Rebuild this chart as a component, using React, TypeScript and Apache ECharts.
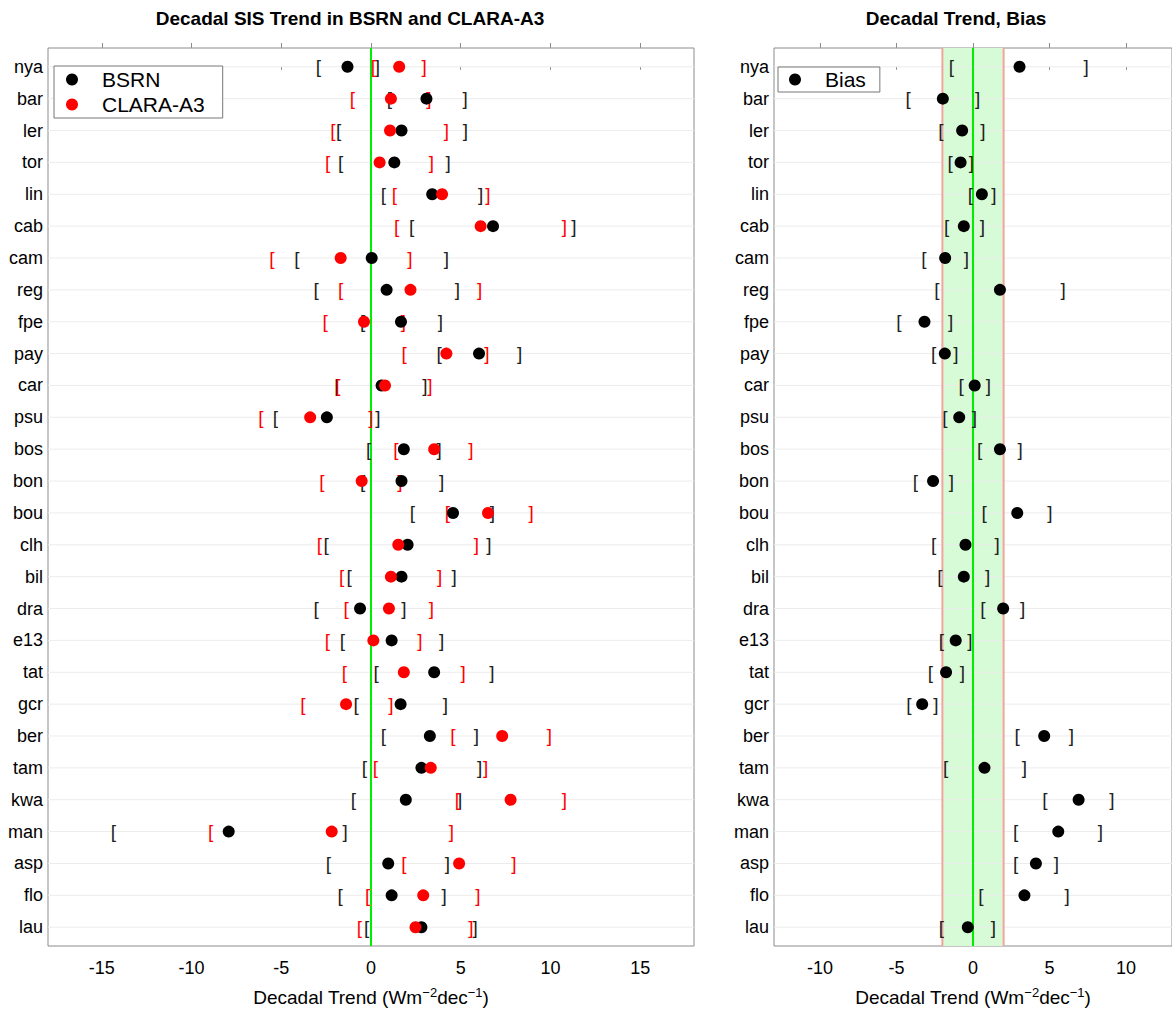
import React, { useEffect, useRef } from "react";
import * as echarts from "echarts";

const FONT = '"Liberation Sans", Arial, Helvetica, sans-serif';

// ---- data ----
const stations = ["nya", "bar", "ler", "tor", "lin", "cab", "cam", "reg", "fpe", "pay", "car", "psu", "bos", "bon", "bou", "clh", "bil", "dra", "e13", "tat", "gcr", "ber", "tam", "kwa", "man", "asp", "flo", "lau"];

const bsrnTrend = [-1.31, 3.09, 1.70, 1.30, 3.41, 6.80, 0.04, 0.87, 1.67, 6.02, 0.59, -2.46, 1.83, 1.70, 4.57, 2.04, 1.70, -0.61, 1.15, 3.52, 1.65, 3.28, 2.81, 1.94, -7.93, 0.96, 1.15, 2.81];
const bsrnLow = [-2.93, 1.02, -1.81, -1.69, 0.69, 2.26, -4.13, -3.06, -0.46, 3.80, -1.90, -5.33, -0.13, -0.46, 2.31, -2.50, -1.22, -3.06, -1.59, 0.28, -0.83, 0.69, -0.37, -0.98, -14.35, -2.37, -1.72, -0.24];
const bsrnHigh = [0.35, 5.24, 5.26, 4.30, 6.11, 11.30, 4.20, 4.81, 3.87, 8.28, 3.00, 0.39, 3.80, 3.94, 6.76, 6.57, 4.63, 1.83, 3.93, 6.74, 4.15, 5.87, 6.06, 4.94, -1.44, 4.26, 4.07, 5.81];

const claraTrend = [1.57, 1.11, 1.06, 0.48, 3.96, 6.11, -1.69, 2.20, -0.39, 4.20, 0.78, -3.39, 3.52, -0.52, 6.52, 1.52, 1.11, 1.00, 0.13, 1.83, -1.39, 7.31, 3.33, 7.78, -2.19, 4.91, 2.91, 2.48];
const claraLow = [0.13, -1.04, -2.13, -2.41, 1.30, 1.43, -5.52, -1.69, -2.56, 1.85, -1.85, -6.13, 1.39, -2.74, 4.26, -2.87, -1.63, -1.39, -2.43, -1.48, -3.80, 4.57, 0.24, 4.81, -8.94, 1.83, -0.19, -0.65];
const claraHigh = [2.96, 3.22, 4.20, 3.37, 6.52, 10.78, 2.17, 6.06, 1.80, 6.46, 3.28, 0.00, 5.56, 1.61, 8.93, 5.87, 3.83, 3.37, 2.72, 5.13, 1.11, 9.94, 6.39, 10.78, 4.48, 7.96, 5.96, 5.56];

const biasVal = [3.04, -1.97, -0.71, -0.81, 0.58, -0.60, -1.82, 1.76, -3.17, -1.84, 0.11, -0.90, 1.76, -2.61, 2.89, -0.49, -0.60, 1.97, -1.13, -1.76, -3.32, 4.65, 0.75, 6.90, 5.57, 4.11, 3.36, -0.34];
const biasLow = [-1.41, -4.24, -2.10, -1.50, -0.17, -1.73, -3.21, -2.36, -4.84, -2.57, -0.77, -1.84, 0.43, -3.77, 0.73, -2.57, -2.16, 0.64, -2.06, -2.78, -4.18, 2.89, -1.78, 4.69, 2.78, 2.78, 0.51, -2.06];
const biasHigh = [7.39, 0.30, 0.64, -0.11, 1.37, 0.62, -0.43, 5.89, -1.46, -1.11, 1.01, 0.09, 3.08, -1.41, 5.03, 1.58, 0.96, 3.25, -0.21, -0.69, -2.42, 6.42, 3.36, 9.08, 8.33, 5.44, 6.15, 1.33];

const leftTicks = [-15, -10, -5, 0, 5, 10, 15];
const rightTicks = [-10, -5, 0, 5, 10];
const leftRange = [-18, 18];
const rightRange = [-13, 13];
const biasBand = [-2, 2];

export default function App() {
  const ref = useRef<HTMLDivElement>(null);

  useEffect(() => {
    const chart = echarts.init(ref.current as HTMLDivElement, null, { renderer: "svg", width: 1172, height: 1012 });
    const idx = stations.map((_, i) => i);

    const yAxisFor = (gridIndex: number) => ({
      type: "value",
      gridIndex,
      inverse: true,
      min: -0.59,
      max: 27.59,
      axisLine: { show: false },
      axisTick: { show: false },
      splitLine: { show: false },
      axisLabel: {
        customValues: idx,
        formatter: (v: number) => stations[Math.round(v)] ?? "",
        fontSize: 18,
        fontFamily: FONT,
        color: "#000",
        margin: 5,
      },
    });

    const axisName = "{a|Decadal Trend (Wm}{s|−2}{a|dec}{s|−1}{a|)}";
    const nameStyle = {
      fontSize: 19,
      fontFamily: FONT,
      color: "#000",
      rich: {
        a: { fontSize: 19, lineHeight: 23, fontFamily: FONT, color: "#000" },
        s: { fontSize: 13, lineHeight: 13, verticalAlign: "top", fontFamily: FONT, color: "#000" },
      },
    };

    const bottomAxis = (gridIndex: number, range: number[], ticks: number[]) => ({
      type: "value",
      gridIndex,
      position: "bottom",
      min: range[0],
      max: range[1],
      axisLine: { show: false },
      splitLine: { show: false },
      axisTick: { show: true, customValues: ticks, length: 3, lineStyle: { color: "#8c8c8c" } },
      axisLabel: { customValues: ticks, fontSize: 18, fontFamily: FONT, color: "#000", margin: 13 },
      name: axisName,
      nameLocation: "middle",
      nameGap: 40,
      nameTextStyle: nameStyle,
    });

    const topAxis = (gridIndex: number, range: number[], ticks: number[]) => ({
      type: "value",
      gridIndex,
      position: "top",
      min: range[0],
      max: range[1],
      axisLine: { show: false },
      splitLine: { show: false },
      axisTick: { show: true, customValues: ticks, length: 5, lineStyle: { color: "#8c8c8c" } },
      axisLabel: { show: false },
    });

    const gridLines = (xAxisIndex: number, yAxisIndex: number) => ({
      type: "custom",
      xAxisIndex,
      yAxisIndex,
      silent: true,
      z: 2,
      data: idx.map((i) => [0, i]),
      renderItem: (params: any, api: any) => {
        const p = api.coord([0, api.value(1)]);
        const cs = params.coordSys;
        return {
          type: "line",
          shape: { x1: cs.x, y1: p[1], x2: cs.x + cs.width, y2: p[1] },
          style: { stroke: "#ececec", lineWidth: 1 },
        };
      },
    });

    const vLine = (xAxisIndex: number, yAxisIndex: number, values: number[], color: string, width: number, z: number) => ({
      type: "custom",
      xAxisIndex,
      yAxisIndex,
      silent: true,
      z,
      data: values.map((v) => [v, 0]),
      renderItem: (params: any, api: any) => {
        const p = api.coord([api.value(0), 0]);
        const cs = params.coordSys;
        return {
          type: "line",
          shape: { x1: p[0], y1: cs.y, x2: p[0], y2: cs.y + cs.height },
          style: { stroke: color, lineWidth: width },
        };
      },
    });

    const bandSeries = {
      type: "custom",
      xAxisIndex: 2,
      yAxisIndex: 1,
      silent: true,
      z: 1,
      data: [[biasBand[0], biasBand[1]]],
      renderItem: (params: any, api: any) => {
        const p1 = api.coord([api.value(0), 0]);
        const p2 = api.coord([api.value(1), 0]);
        const cs = params.coordSys;
        return {
          type: "rect",
          shape: { x: p1[0], y: cs.y, width: p2[0] - p1[0], height: cs.height },
          style: { fill: "#d6fbd6" },
        };
      },
    };

    const brackets = (lows: number[], highs: number[], color: string, xAxisIndex: number, yAxisIndex: number, z: number) => ({
      type: "custom",
      xAxisIndex,
      yAxisIndex,
      silent: true,
      z,
      data: [...lows.map((v, i) => [v, i, 0]), ...highs.map((v, i) => [v, i, 1])],
      renderItem: (params: any, api: any) => {
        const p = api.coord([api.value(0), api.value(1)]);
        return {
          type: "text",
          x: p[0],
          y: p[1],
          style: {
            text: api.value(2) ? "]" : "[",
            fill: color,
            fontSize: 19,
            fontFamily: FONT,
            align: "center",
            verticalAlign: "middle",
          },
        };
      },
    });

    const dots = (name: string, vals: number[], color: string, xAxisIndex: number, yAxisIndex: number, z: number) => ({
      type: "scatter",
      name,
      xAxisIndex,
      yAxisIndex,
      z,
      symbol: "circle",
      symbolSize: 12,
      itemStyle: { color, opacity: 1 },
      data: vals.map((v, i) => [v, i]),
    });

    const legendBase = {
      orient: "vertical",
      itemGap: 4,
      itemWidth: 12,
      itemHeight: 12,
      icon: "circle",
      selectedMode: false,
      backgroundColor: "#fff",
      borderColor: "#777",
      borderWidth: 1,
      borderRadius: 0,
      textStyle: { fontSize: 21, lineHeight: 21, fontFamily: FONT, color: "#000", padding: [0, 0, 0, 19] },
    };

    chart.setOption({
      animation: false,
      backgroundColor: "#fff",
      graphic: [
        {
          type: "text",
          x: 350,
          y: 18,
          style: { text: "Decadal SIS Trend in BSRN and CLARA-A3", fontSize: 19, fontWeight: "bold", fontFamily: FONT, fill: "#000", align: "center", verticalAlign: "middle" },
        },
        {
          type: "text",
          x: 956,
          y: 18,
          style: { text: "Decadal Trend, Bias", fontSize: 19, fontWeight: "bold", fontFamily: FONT, fill: "#000", align: "center", verticalAlign: "middle" },
        },
      ],
      legend: [
        { ...legendBase, left: 54, top: 66, padding: [3, 18, 3, 12], data: ["BSRN", "CLARA-A3"] },
        { ...legendBase, left: 778, top: 67, padding: [2, 14, 2, 11], data: ["Bias"] },
      ],
      grid: [
        { left: 48, top: 48, width: 646, height: 905, show: true, borderColor: "#8c8c8c", borderWidth: 1, backgroundColor: "transparent" },
        { left: 774, top: 48, width: 405, height: 905, show: true, borderColor: "#8c8c8c", borderWidth: 1, backgroundColor: "transparent" },
      ],
      xAxis: [
        bottomAxis(0, leftRange, leftTicks),
        topAxis(0, leftRange, leftTicks),
        bottomAxis(1, rightRange, rightTicks),
        topAxis(1, rightRange, rightTicks),
      ],
      yAxis: [yAxisFor(0), yAxisFor(1)],
      series: [
        gridLines(0, 0),
        vLine(0, 0, [0], "#00ee00", 2, 3),
        brackets(bsrnLow, bsrnHigh, "#222", 0, 0, 4),
        brackets(claraLow, claraHigh, "#ff0000", 0, 0, 4),
        dots("BSRN", bsrnTrend, "#000000", 0, 0, 5),
        dots("CLARA-A3", claraTrend, "#ff0000", 0, 0, 6),

        bandSeries,
        gridLines(2, 1),
        vLine(2, 1, biasBand, "#f4a49c", 2, 3),
        vLine(2, 1, [0], "#00ee00", 2, 3),
        brackets(biasLow, biasHigh, "#222", 2, 1, 4),
        dots("Bias", biasVal, "#000000", 2, 1, 5),
      ],
    });

    return () => chart.dispose();
  }, []);

  return <div ref={ref} style={{ position: "fixed", left: 0, top: 0, width: 1172, height: 1012, background: "#fff" }} />;
}
